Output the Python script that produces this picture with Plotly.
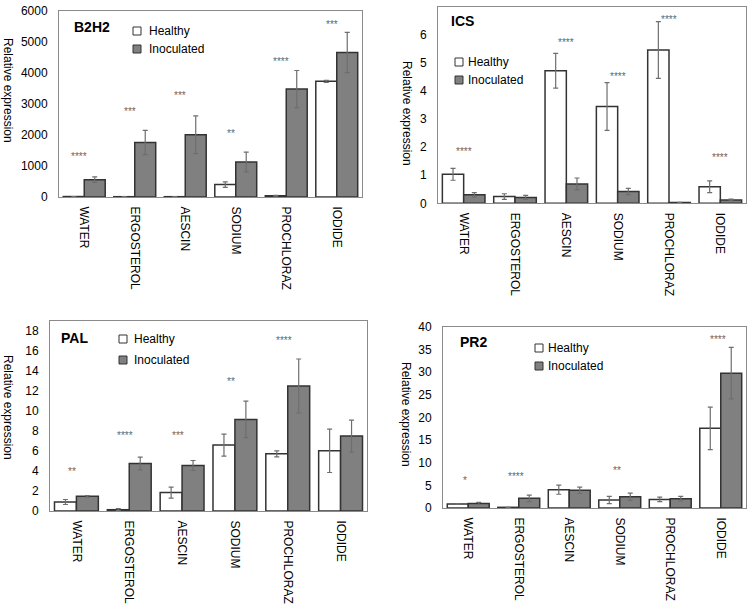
import plotly.graph_objects as go

W, H = 750, 608
FONT = "Liberation Sans, Arial, sans-serif"

categories = ["WATER", "ERGOSTEROL", "AESCIN", "SODIUM", "PROCHLORAZ", "IODIDE"]

# B2H2
b2h2_healthy = [15, 10, 10, 400, 40, 3730]
b2h2_healthy_err = [0, 0, 0, 90, 10, 30]
b2h2_inoc = [560, 1760, 2010, 1130, 3480, 4660]
b2h2_inoc_err = [90, 390, 610, 320, 600, 650]
b2h2_stars = ["****", "***", "***", "**", "****", "***"]
b2h2_star_y = [1380, 2820, 3350, 2120, 4440, 5640]

# ICS
ics_healthy = [1.03, 0.24, 4.72, 3.45, 5.46, 0.59]
ics_healthy_err = [0.21, 0.10, 0.62, 0.85, 1.01, 0.21]
ics_inoc = [0.30, 0.21, 0.69, 0.42, 0.03, 0.12]
ics_inoc_err = [0.08, 0.07, 0.21, 0.11, 0.0, 0.03]
ics_stars = ["****", "", "****", "****", "****", "****"]
ics_star_y = [1.93, None, 5.81, 4.58, 6.62, 1.70]

# PAL
pal_healthy = [0.9, 0.13, 1.84, 6.59, 5.72, 6.02]
pal_healthy_err = [0.25, 0.1, 0.55, 1.1, 0.3, 2.17]
pal_inoc = [1.47, 4.75, 4.55, 9.16, 12.5, 7.49]
pal_inoc_err = [0.08, 0.63, 0.5, 1.82, 2.7, 1.6]
pal_stars = ["**", "****", "***", "**", "****", ""]
pal_star_y = [4.15, 7.76, 7.76, 13.18, 17.3, None]

# PR2
pr2_healthy = [0.88, 0.15, 4.04, 1.76, 1.9, 17.6]
pr2_healthy_err = [0.1, 0.0, 1.0, 0.8, 0.5, 4.7]
pr2_inoc = [1.0, 2.13, 3.9, 2.5, 2.05, 29.8]
pr2_inoc_err = [0.25, 0.7, 0.7, 0.8, 0.5, 5.7]
pr2_stars = ["*", "****", "", "**", "", "****"]
pr2_star_y = [6.6, 7.5, None, 8.7, None, 37.7]

panels = [
    dict(title="B2H2", h=b2h2_healthy, he=b2h2_healthy_err, i=b2h2_inoc, ie=b2h2_inoc_err,
         stars=b2h2_stars, sy=b2h2_star_y, yr=[0, 6000], dt=1000,
         px=(59, 362), py=(11, 197), title_pos=(72, 27), leg=(137, 147, 31, 49),
         ytitle=(8, 90), sx=-5),
    dict(title="ICS", h=ics_healthy, he=ics_healthy_err, i=ics_inoc, ie=ics_inoc_err,
         stars=ics_stars, sy=ics_star_y, yr=[0, 7], dt=1,
         px=(438, 746), py=(6.7, 203.3), title_pos=(449, 21), leg=(459, 466, 62, 80),
         ytitle=(407, 113), sx=0),
    dict(title="PAL", h=pal_healthy, he=pal_healthy_err, i=pal_inoc, ie=pal_inoc_err,
         stars=pal_stars, sy=pal_star_y, yr=[0, 19.0], dt=2,
         px=(50, 367), py=(321, 511), title_pos=(59, 338), leg=(123, 132, 339, 360),
         ytitle=(8, 407), sx=-4),
    dict(title="PR2", h=pr2_healthy, he=pr2_healthy_err, i=pr2_inoc, ie=pr2_inoc_err,
         stars=pr2_stars, sy=pr2_star_y, yr=[0, 40], dt=5,
         px=(443, 746), py=(327, 508), title_pos=(458, 342), leg=(539, 546, 348, 366),
         ytitle=(406, 414), sx=-3),
]

fig = go.Figure()
annotations = []
shapes = []
layout_axes = {}

for k, p in enumerate(panels):
    n = "" if k == 0 else str(k + 1)
    xa, ya = "x" + n, "y" + n
    err_style = dict(type="data", color="#6e6e6e", thickness=1.2, width=2.5, visible=True)
    fig.add_trace(go.Bar(
        x=categories, y=p["h"], name="Healthy", showlegend=False,
        marker=dict(color="white", line=dict(color="#333333", width=1.5)),
        error_y=dict(array=p["he"], **err_style), xaxis=xa, yaxis=ya))
    fig.add_trace(go.Bar(
        x=categories, y=p["i"], name="Inoculated", showlegend=False,
        marker=dict(color="#808080", line=dict(color="#333333", width=1.5)),
        error_y=dict(array=p["ie"], **err_style), xaxis=xa, yaxis=ya))

    x0, x1 = p["px"]
    y0, y1 = p["py"]
    layout_axes["xaxis" + n] = dict(
        domain=[x0 / W, x1 / W], anchor=ya, tickangle=90, showline=True, mirror=True,
        linecolor="#8a8a8a", linewidth=1, ticks="", showgrid=False, zeroline=False,
        automargin=False,
        tickfont=dict(size=12, color="black", family=FONT), ticklabelstandoff=6)
    layout_axes["yaxis" + n] = dict(
        domain=[1 - y1 / H, 1 - y0 / H], anchor=xa, range=p["yr"], dtick=p["dt"],
        tick0=0, showline=True, mirror=True, linecolor="#8a8a8a", linewidth=1,
        ticks="", showgrid=False, zeroline=False, automargin=False,
        tickfont=dict(size=12, color="black", family=FONT), ticklabelstandoff=8)

    # significance stars
    for c, s, yv in zip(categories, p["stars"], p["sy"]):
        if s and yv is not None:
            annotations.append(dict(x=c, y=yv, xref=xa, yref=ya, text=s, showarrow=False,
                                    font=dict(size=10, color="#666666", family=FONT),
                                    xshift=p["sx"], yshift=-2))

    # panel title
    tx, ty = p["title_pos"]
    annotations.append(dict(x=tx / W, y=1 - ty / H, xref="paper", yref="paper",
                            text="<b>" + p["title"] + "</b>", showarrow=False,
                            xanchor="left", yanchor="middle",
                            font=dict(size=14, color="black", family=FONT)))

    # y-axis title
    yx, yy = p["ytitle"]
    annotations.append(dict(x=yx / W, y=1 - yy / H, xref="paper", yref="paper",
                            text="Relative expression", showarrow=False, textangle=90,
                            xanchor="center", yanchor="middle",
                            font=dict(size=12, color="black", family=FONT)))

    # legend keys
    sqx, txx, r1, r2 = p["leg"]
    for ry, lab, col in ((r1, "Healthy", "white"), (r2, "Inoculated", "#808080")):
        shapes.append(dict(type="rect", xref="paper", yref="paper",
                           x0=(sqx - 4) / W, x1=(sqx + 4) / W,
                           y0=1 - (ry + 4) / H, y1=1 - (ry - 4) / H,
                           fillcolor=col, line=dict(color="#333333", width=1)))
        annotations.append(dict(x=txx / W, y=1 - ry / H, xref="paper", yref="paper",
                                text=lab, showarrow=False, xanchor="left", yanchor="middle",
                                font=dict(size=12, color="black", family=FONT)))

fig.update_layout(
    width=W, height=H, margin=dict(l=0, r=0, t=0, b=0, autoexpand=False),
    paper_bgcolor="white", plot_bgcolor="white",
    barmode="group", bargap=0.17, bargroupgap=0,
    font=dict(family=FONT, size=12, color="black"),
    annotations=annotations, shapes=shapes, showlegend=False,
    **layout_axes)

fig.write_html(
    "out.html",
    config={"displayModeBar": False},
    post_script="document.body.style.margin='0';document.body.style.overflow='hidden';",
)
